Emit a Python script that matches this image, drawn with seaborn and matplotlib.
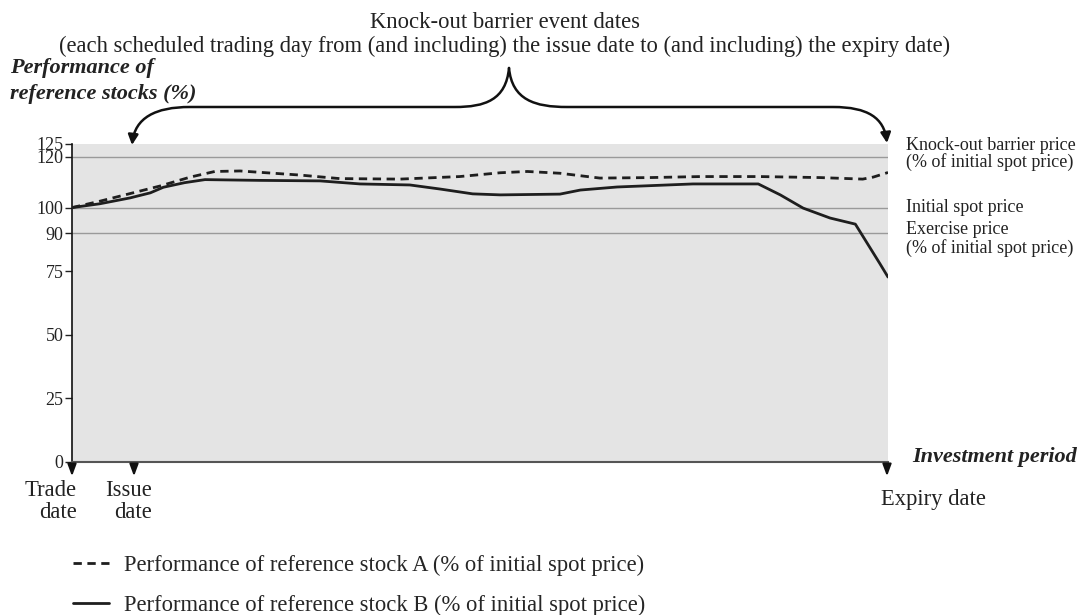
import matplotlib
matplotlib.use("Agg")
import matplotlib.pyplot as plt
import seaborn as sns
import pandas as pd
from matplotlib.path import Path
from matplotlib.patches import FancyArrowPatch

# ---------------- data (investment period scaled 0..100) ----------------
t_a = [0, 3.4, 7.1, 10.8, 14.5, 17.5, 20.6, 27.9, 32.8, 40.2, 47.5, 52.5, 55.8,
       59.8, 64.7, 70.8, 77.0, 84.3, 91.7, 96.9, 98.2, 100]
perf_a = [100, 102.5, 105.5, 108.5, 112.0, 114.2, 114.4, 112.8, 111.4, 111.2, 112.2,
          113.7, 114.2, 113.5, 111.6, 111.8, 112.2, 112.2, 111.8, 111.2, 112.0, 113.8]

t_b = [0, 3.4, 7.1, 9.6, 11.2, 13.8, 16.3, 23.0, 30.4, 35.3, 41.4, 45.1, 49.1, 52.5,
       59.8, 62.3, 66.8, 76.1, 84.1, 86.8, 89.6, 92.9, 96.0, 99.0, 100]
perf_b = [100, 101.5, 103.8, 105.8, 108.0, 109.8, 111.0, 110.7, 110.5, 109.3, 108.9,
          107.3, 105.4, 105.0, 105.3, 106.9, 108.1, 109.3, 109.3, 105.0, 99.8, 95.9,
          93.5, 78.0, 72.7]

y_ticks = [0, 25, 50, 75, 90, 100, 120, 125]
ref_levels = [90, 100, 120]

label_a = "Performance of reference stock A (% of initial spot price)"
label_b = "Performance of reference stock B (% of initial spot price)"

df = pd.concat([
    pd.DataFrame({"t": t_a, "perf": perf_a, "stock": label_a}),
    pd.DataFrame({"t": t_b, "perf": perf_b, "stock": label_b}),
])

# ---------------- style ----------------
sns.set_theme(style="white")
plt.rcParams["font.family"] = ["Liberation Serif", "DejaVu Serif"]
plt.rcParams["font.size"] = 13

BIG = 16.3
W, H = 1084, 615
fig = plt.figure(figsize=(W / 100, H / 100), dpi=100)
L, R, T, B = 72, 888, 144, 462
ax = fig.add_axes([L / W, 1 - B / H, (R - L) / W, (B - T) / H])
ax.set_facecolor("#e4e4e4")

for lv in ref_levels:
    ax.axhline(lv, color="#9a9a9a", lw=1.0, zorder=1)

sns.lineplot(data=df, x="t", y="perf", style="stock", ax=ax, color="#1e1e1e",
             linewidth=2.0, dashes={label_a: (3.0, 2.0), label_b: ""},
             legend=True, zorder=3, estimator=None, sort=False)

ax.set_xlim(0, 100)
ax.set_ylim(0, 125)
ax.set_yticks(y_ticks)
ax.set_yticklabels([str(v) for v in y_ticks], fontsize=13, color="#222")
ax.set_xticks([])
ax.set_xlabel("")
ax.set_ylabel("")
ax.tick_params(axis="y", direction="out", length=5, width=1, color="#222", pad=1, left=True)
for s in ["top", "right"]:
    ax.spines[s].set_visible(False)
ax.spines["left"].set_color("#111")
ax.spines["left"].set_linewidth(1.2)
ax.spines["bottom"].set_color("#555")
ax.spines["bottom"].set_linewidth(1.5)

# legend below
handles, labels = ax.get_legend_handles_labels()
ax.legend_.remove()
fig.legend(handles, labels, loc="upper left", bbox_to_anchor=(64 / W, 1 - 546 / H),
           frameon=False, fontsize=BIG, handlelength=1.6, handletextpad=0.65,
           labelspacing=0.8, borderaxespad=0)

# ---------------- overlay annotations (pixel coordinates) ----------------
ov = fig.add_axes([0, 0, 1, 1], facecolor="none")
ov.set_xlim(0, W)
ov.set_ylim(H, 0)
ov.axis("off")

tc = "#222"
ov.text(505, 22, "Knock-out barrier event dates", ha="center", va="center", fontsize=BIG, color=tc)
ov.text(505, 46, "(each scheduled trading day from (and including) the issue date to (and including) the expiry date)",
        ha="center", va="center", fontsize=BIG, color=tc)
ov.text(10, 68, "Performance of", ha="left", va="center", fontsize=16,
        fontweight="bold", fontstyle="italic", color=tc)
ov.text(10, 94, "reference stocks (%)", ha="left", va="center", fontsize=16,
        fontweight="bold", fontstyle="italic", color=tc)

# brace
left_path = Path([(509, 68), (506, 100), (485, 107), (455, 107), (190, 107),
                  (155, 107), (135, 118), (132, 145)],
                 [Path.MOVETO, Path.CURVE4, Path.CURVE4, Path.CURVE4, Path.LINETO,
                  Path.CURVE4, Path.CURVE4, Path.CURVE4])
right_path = Path([(509, 68), (512, 100), (535, 107), (567, 107), (833, 107),
                   (868, 107), (884, 118), (887, 143)],
                  [Path.MOVETO, Path.CURVE4, Path.CURVE4, Path.CURVE4, Path.LINETO,
                   Path.CURVE4, Path.CURVE4, Path.CURVE4])
for p in (left_path, right_path):
    ov.add_patch(FancyArrowPatch(path=p, arrowstyle="-|>,head_length=6,head_width=3",
                                 color="#111", lw=1.8, mutation_scale=1, transform=ov.transData))

# right side labels
rx = 906
ov.text(rx, 145, "Knock-out barrier price", ha="left", va="center", fontsize=13, color=tc)
ov.text(rx, 162, "(% of initial spot price)", ha="left", va="center", fontsize=13, color=tc)
ov.text(rx, 208, "Initial spot price", ha="left", va="center", fontsize=13, color=tc)
ov.text(rx, 230, "Exercise price", ha="left", va="center", fontsize=13, color=tc)
ov.text(rx, 248, "(% of initial spot price)", ha="left", va="center", fontsize=13, color=tc)

# bottom arrows & labels
for xp in (72, 134, 887):
    ov.add_patch(FancyArrowPatch((xp, 462), (xp, 479), arrowstyle="-|>,head_length=7,head_width=2.6",
                                 color="#111", lw=1.5, mutation_scale=1, transform=ov.transData))
ov.text(77, 490, "Trade", ha="right", va="center", fontsize=BIG, color=tc)
ov.text(77, 512, "date", ha="right", va="center", fontsize=BIG, color=tc)
ov.text(152, 490, "Issue", ha="right", va="center", fontsize=BIG, color=tc)
ov.text(152, 512, "date", ha="right", va="center", fontsize=BIG, color=tc)
ov.text(881, 500, "Expiry date", ha="left", va="center", fontsize=BIG, color=tc)
ov.text(1077, 457, "Investment period", ha="right", va="center", fontsize=16,
        fontweight="bold", fontstyle="italic", color=tc)

fig.savefig("out.png", dpi=100)
